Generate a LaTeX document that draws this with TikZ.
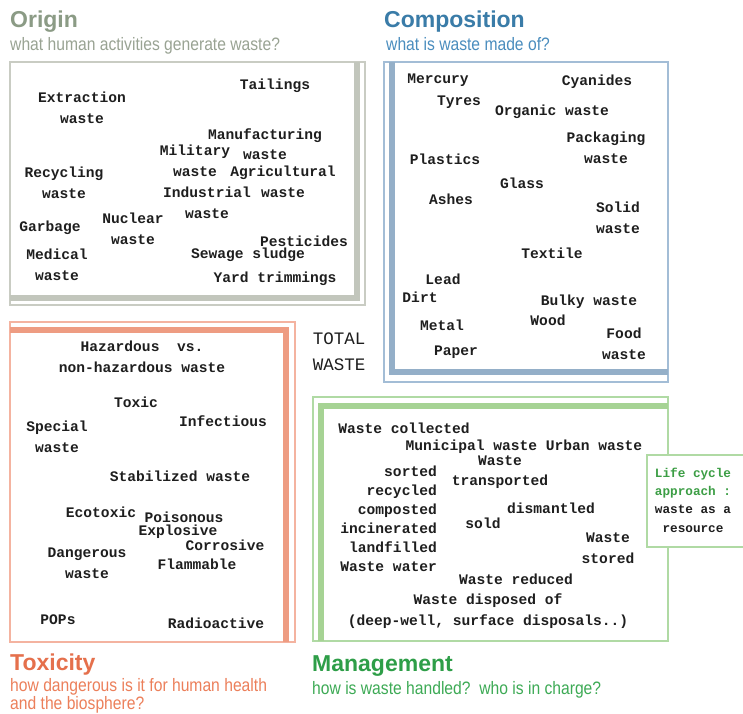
\documentclass[tikz,border=0pt]{standalone}
\usepackage{fontspec}
\setsansfont{Liberation Sans}
\setmonofont{Liberation Mono}
\newfontfamily\narrowfont[FakeStretch=0.87]{Liberation Sans}
\usepackage{tikz}
\definecolor{inkcolor}{HTML}{1E1E1E}
\definecolor{origincolor}{HTML}{8B9B85}
\definecolor{originsubcolor}{HTML}{99A393}
\definecolor{originlinecolor}{HTML}{C9CCC3}
\definecolor{originbarcolor}{HTML}{C2C6BC}
\definecolor{compcolor}{HTML}{3A7CA8}
\definecolor{compsubcolor}{HTML}{4A8DBE}
\definecolor{complinecolor}{HTML}{A3BDD6}
\definecolor{compbarcolor}{HTML}{94AFC8}
\definecolor{toxcolor}{HTML}{E5704C}
\definecolor{toxsubcolor}{HTML}{EC7F5A}
\definecolor{toxlinecolor}{HTML}{F4B3A0}
\definecolor{toxbarcolor}{HTML}{EE9C82}
\definecolor{mgmtcolor}{HTML}{2E9E48}
\definecolor{mgmtsubcolor}{HTML}{3DAA55}
\definecolor{mgmtlinecolor}{HTML}{B0DAA4}
\definecolor{mgmtbarcolor}{HTML}{A6D394}
\definecolor{lifecolor}{HTML}{3C9E45}
\tikzset{
  word/.style={font=\ttfamily\bfseries\fontsize{14.6}{20.5}\selectfont, text=inkcolor,
               align=center, inner sep=0pt},
  headline/.style={font=\sffamily\bfseries\fontsize{23}{26}\selectfont, anchor=base west, inner sep=0pt},
  question/.style={font=\narrowfont\fontsize{18}{18}\selectfont, anchor=base west, inner sep=0pt,
                   align=left},
  thinline/.style={line width=1.4pt},
  thickbar/.style={line width=6pt}
}
\begin{document}
\begin{tikzpicture}[x=1pt, y=-1pt]
  \useasboundingbox[fill=white] (0,0) rectangle (743,713);

  \draw[thinline, originlinecolor] (10,62) rectangle (365,305);
  \draw[thickbar, originbarcolor] (357,62) -- (357,298) -- (10,298);
  \draw[thinline, complinecolor] (384,62) rectangle (668,382);
  \draw[thickbar, compbarcolor] (392,62) -- (392,372) -- (668,372);
  \draw[thinline, toxlinecolor] (10,322) rectangle (295,642);
  \draw[thickbar, toxbarcolor] (10,330) -- (286,330) -- (286,642);
  \draw[thinline, mgmtlinecolor] (313,397) rectangle (668,641);
  \draw[thickbar, mgmtbarcolor] (321,641) -- (321,406) -- (668,406);

  \node[headline, text=origincolor] (origin) at (10,27) {Origin};
  \node[question, text=originsubcolor] (originq) at (10,50) {what human activities generate waste?};
  \node[headline, text=compcolor] (comp) at (384,27) {Composition};
  \node[question, text=compsubcolor] (compq) at (386,50) {what is waste made of?};
  \node[headline, text=toxcolor] (tox) at (10,670) {Toxicity};
  \node[question, text=toxsubcolor] (toxq) at (10,709) {how dangerous is it for human health\\and the biosphere?};
  \node[headline, text=mgmtcolor] (mgmt) at (312,671) {Management};
  \node[question, text=mgmtsubcolor] (mgmtq) at (312,694) {how is waste handled?\ \ who is in charge?};

  \foreach \n/\x/\y/\t in {
    ext/82/108/{Extraction\\waste}, tail/275/86/Tailings, manu/265/144/{Manufacturing\\waste},
    mil/195/161/{Military\\waste}, agri/283/182/{Agricultural\\waste}, recy/64/183/{Recycling\\waste},
    ind/207/203/{Industrial\\waste}, nuc/133/229/{Nuclear\\waste}, garb/50/228/Garbage,
    med/57/265/{Medical\\waste}, pest/304/241/Pesticides, sew/248/255/{Sewage sludge},
    yard/275/279/{Yard trimmings}} {
    \node[word] (\n) at (\x,\y) {\t};
  }
  \foreach \n/\x/\y/\t in {
    merc/438/80/Mercury, cyan/597/82/Cyanides, tyre/459/102/Tyres, orga/552/112/{Organic waste},
    pack/606/148/{Packaging\\waste}, plas/445/159/Plastics, glas/522/183/Glass, ashe/451/199/Ashes,
    soli/618/218/{Solid\\waste}, texl/552/253/Textile, lead/443/279/Lead, dirt/420/297/Dirt,
    bulk/589/302/{Bulky waste}, wood/548/320/Wood, meta/442/325/Metal, food/624/344/{Food\\waste},
    pape/456/352/Paper} {
    \node[word] (\n) at (\x,\y) {\t};
  }
  \foreach \n/\x/\y/\t in {
    haz/142/357/{Hazardous\ \ vs.\\non-hazardous waste}, toxi/136/402/Toxic, infe/223/421/Infectious,
    spec/57/437/{Special\\waste}, stab/180/476/{Stabilized waste}, ecot/101/512/Ecotoxic,
    pois/184/517/Poisonous, expl/178/532/Explosive, corr/225/545/Corrosive,
    dang/87/563/{Dangerous\\waste}, flam/197/564/Flammable, pops/58/620/POPs,
    radi/216/623/Radioactive} {
    \node[word] (\n) at (\x,\y) {\t};
  }
  \foreach \n/\x/\y/\t in {
    coll/404/428/{Waste collected}, muni/524/447/{Municipal waste Urban waste},
    tran/500/472/{Waste\\transported}, dism/551/508/dismantled, sold/483/523/sold,
    stor/608/548/{Waste\\stored}, redu/516/579/{Waste reduced},
    disp/488/611/{Waste disposed of\\(deep-well, surface disposals..)}} {
    \node[word] (\n) at (\x,\y) {\t};
  }
  \node[word, align=right, anchor=east, font=\ttfamily\bfseries\fontsize{14.6}{19}\selectfont]
    (treat) at (437,519) {sorted\\recycled\\composted\\incinerated\\landfilled\\Waste water};

  \node[word, font=\ttfamily\fontsize{17.5}{26}\selectfont] (total) at (339,352) {TOTAL\\WASTE};

  \fill[white] (647,455) rectangle (743,547);
  \draw[thinline, mgmtlinecolor] (743,455) -- (647,455) -- (647,547) -- (743,547);
  \node[word, font=\ttfamily\bfseries\fontsize{12.7}{18.3}\selectfont] (life) at (693,500)
    {\textcolor{lifecolor}{Life cycle}\\\textcolor{lifecolor}{approach :}\\waste as a\\resource};
\end{tikzpicture}
\end{document}
